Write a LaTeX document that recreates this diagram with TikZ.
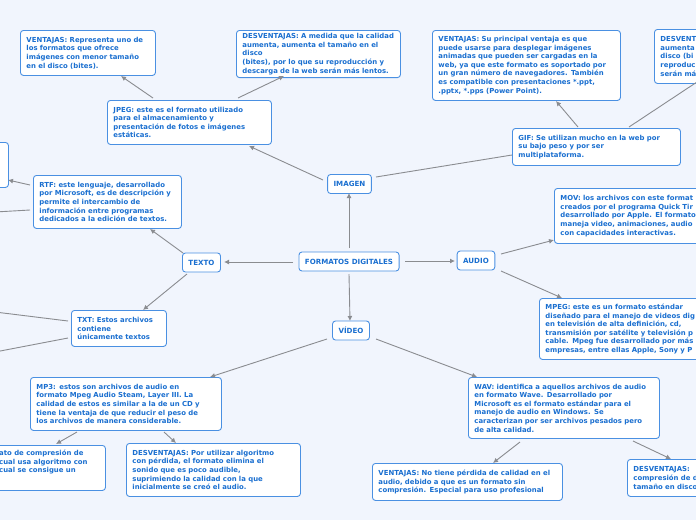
\documentclass[tikz,border=0pt]{standalone}
\usepackage{fontspec}
\setmainfont{DejaVu Sans}
\usetikzlibrary{arrows.meta}
\begin{document}
\begin{tikzpicture}[x=1pt,y=-1pt,
  box/.style={draw=boxline,line width=0.9pt,fill=white,rounded corners=3pt,anchor=north west,
    font=\bfseries\fontsize{6.9}{8.6}\selectfont,text=txtblue,align=left,inner xsep=6pt,inner ysep=3pt},
  head/.style={draw=boxline,line width=0.9pt,fill=white,rounded corners=3pt,
    font=\bfseries\fontsize{7.1}{8}\selectfont,text=txtblue,inner xsep=6pt,minimum height=19pt},
  con/.style={draw=arrowgray,line width=0.9pt},
  arr/.style={con,-{Latex[length=5pt,width=5pt]}}]
\definecolor{boxline}{HTML}{4A90E2}
\definecolor{txtblue}{HTML}{1A6FD0}
\definecolor{arrowgray}{HTML}{8A8C90}
\definecolor{bg}{HTML}{F1F5FD}
\useasboundingbox (0,0) rectangle (696,520);
\clip (0,0) rectangle (696,520);
\fill[bg] (0,0) rectangle (696,520);

\node[head] (fd) at (349,261.5) {FORMATOS DIGITALES};
\node[head] (img) at (349.5,184) {IMAGEN};
\node[head] (txt) at (201.5,262.5) {TEXTO};
\node[head] (aud) at (476,260.5) {AUDIO};
\node[head] (vid) at (351,330.5) {VÍDEO};

\node[box,minimum width=164pt,minimum height=44pt,text width=152pt] (jpeg) at (107,100) {JPEG: este es el formato utilizado\\para el almacenamiento y\\presentación de fotos e imágenes\\estáticas.};
\node[box,minimum width=135pt,minimum height=45pt,text width=123pt] (jv) at (20,30) {VENTAJAS: Representa uno de\\los formatos que ofrece\\imágenes con menor tamaño\\en el disco (bites).};
\node[box,minimum width=164pt,minimum height=44pt,text width=152pt] (jd) at (236,30) {DESVENTAJAS: A medida que la calidad\\aumenta, aumenta el tamaño en el disco\\(bites), por lo que su reproducción y\\descarga de la web serán más lentos.};
\node[box,minimum width=148pt,minimum height=53pt,text width=136pt] (rtf) at (33,175) {RTF: este lenguaje, desarrollado\\por Microsoft, es de descripción y\\permite el intercambio de\\información entre programas\\dedicados a la edición de textos.};
\node[box,minimum width=40pt,minimum height=45pt] (rl) at (-32,142) {};
\node[box,minimum width=95pt,minimum height=36pt,text width=83pt] (tx) at (71,310) {TXT: Estos archivos\\contiene\\únicamente textos};
\node[box,minimum width=168pt,minimum height=37pt,text width=156pt] (gif) at (512,128) {GIF: Se utilizan mucho en la web por\\su bajo peso y por ser\\multiplataforma.};
\node[box,minimum width=188pt,minimum height=70pt,text width=176pt] (gv) at (432,30) {VENTAJAS: Su principal ventaja es que\\puede usarse para desplegar imágenes\\animadas que pueden ser cargadas en la\\web, ya que este formato es soportado por\\un gran número de navegadores. También\\es compatible con presentaciones *.ppt,\\*.pptx, *.pps (Power Point).};
\node[box,minimum width=60pt,minimum height=54pt,text width=48pt] (gd) at (654,29) {DESVENT\\aumenta\\disco (bi\\reproduc\\serán má};
\node[box,minimum width=200pt,minimum height=55pt,text width=188pt] (mov) at (554,188) {MOV: los archivos con este format\\creados por el programa Quick Tir\\desarrollado por Apple. El formato\\maneja video, animaciones, audio\\con capacidades interactivas.};
\node[box,minimum width=200pt,minimum height=61pt,text width=188pt] (mpeg) at (539,298) {MPEG: este es un formato estándar\\diseñado para el manejo de videos dig\\en televisión de alta definición, cd,\\transmisión por satélite y televisión p\\cable. Mpeg fue desarrollado por más\\empresas, entre ellas Apple, Sony y P};
\node[box,minimum width=191pt,minimum height=61pt,text width=179pt] (wav) at (468,377) {WAV: identifica a aquellos archivos de audio\\en formato Wave. Desarrollado por\\Microsoft es el formato estándar para el\\manejo de audio en Windows. Se\\caracterizan por ser archivos pesados pero\\de alta calidad.};
\node[box,minimum width=190pt,minimum height=37pt,text width=178pt] (wv) at (372,463) {VENTAJAS: No tiene pérdida de calidad en el\\audio, debido a que es un formato sin\\compresión. Especial para uso profesional};
\node[box,minimum width=100pt,minimum height=37pt,text width=88pt] (wd) at (627,459) {DESVENTAJAS:\\compresión de d\\tamaño en disco};
\node[box,minimum width=191pt,minimum height=53pt,text width=179pt] (mp3) at (30,377) {MP3: estos son archivos de audio en\\formato Mpeg Audio Steam, Layer III. La\\calidad de estos es similar a la de un CD y\\tiene la ventaja de que reducir el peso de\\los archivos de manera considerable.};
\node[box,minimum width=174pt,minimum height=53pt,text width=162pt] (md) at (126,443) {DESVENTAJAS: Por utilizar algoritmo\\con pérdida, el formato elimina el\\sonido que es poco audible,\\suprimiendo la calidad con la que\\inicialmente se creó el audio.};
\node[box,minimum width=125pt,minimum height=45pt] (mv) at (-20,445) {};
\node[anchor=north west,font=\bfseries\fontsize{6.9}{8.6}\selectfont,text=txtblue,align=left,inner sep=0pt] at (-1,450) {ato de compresión de\\cual usa algoritmo con\\cual se consigue un};

\draw[arr] (293,262) -- (224,262);
\draw[arr] (405,261) -- (455,261);
\draw[arr] (349,248) -- (349,193);
\draw[arr] (349,274) -- (350,321);
\draw[arr] (323,180) -- (249,146);
\draw[arr] (153,98) -- (121,76);
\draw[arr] (238,98) -- (284,76);
\draw[con] (376,177) -- (512,155);
\draw[arr] (578,127) -- (556,101);
\draw[con] (629,127) -- (700,80);
\draw[arr] (183,253) -- (150,229);
\draw[arr] (30,185) -- (8,180);
\draw[con] (30,210) -- (-5,212);
\draw[arr] (187,274) -- (143,310);
\draw[con] (68,321) -- (-5,312);
\draw[con] (68,338) -- (-5,352);
\draw[arr] (501,254) -- (554,240);
\draw[arr] (501,271) -- (562,298);
\draw[arr] (327,339) -- (210,377);
\draw[arr] (376,339) -- (477,377);
\draw[arr] (77,432) -- (56,444);
\draw[arr] (164,432) -- (176,443);
\draw[arr] (520,442) -- (493,463);
\draw[arr] (633,441) -- (671,459);
\end{tikzpicture}
\end{document}
